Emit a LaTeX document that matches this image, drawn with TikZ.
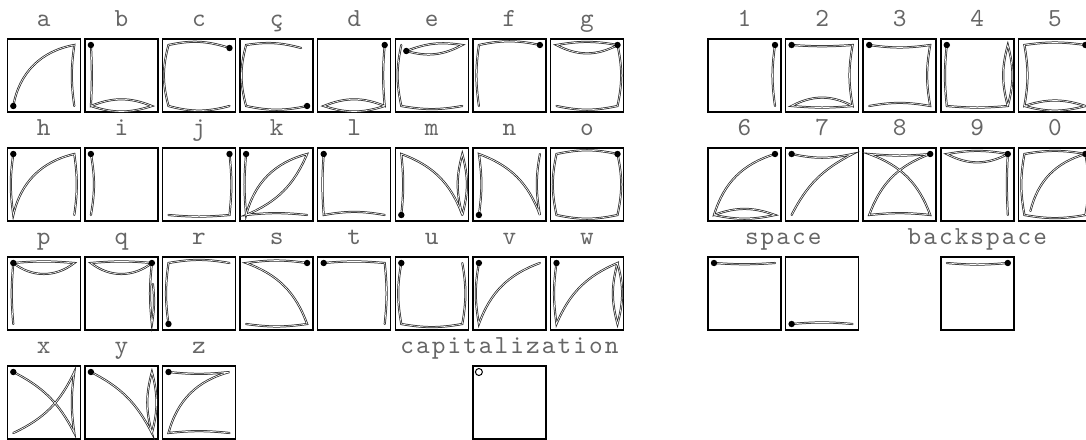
\documentclass[tikz,border=0pt]{standalone}
\usepackage{fontspec}
\newfontfamily\keyfont{lmmono10-regular.otf}[LetterSpace=8]
\usetikzlibrary{calc}

\tikzset{
  keybox/.style={draw, line width=1.5pt, minimum size=73pt, inner sep=0pt, outer sep=-6pt},
  keylabel/.style={anchor=base, text=black!60, font=\keyfont\fontsize{26}{28}\selectfont},
  stroke/.style={draw=black!85, line width=0.75pt, double=white, double distance=0.6pt, line cap=round},
  startdot/.style={fill=black}
}

\begin{document}
\begin{tikzpicture}[x=1pt, y=1pt]
\useasboundingbox (0,0) rectangle (1086,-439);

% letter boxes
\foreach \n/\t/\c/\r in {a/a/0/0, b/b/1/0, c/c/2/0, cc/ç/3/0, d/d/4/0, e/e/5/0, f/f/6/0, g/g/7/0,
    h/h/0/1, i/i/1/1, j/j/2/1, k/k/3/1, l/l/4/1, m/m/5/1, n/n/6/1, o/o/7/1,
    p/p/0/2, q/q/1/2, r/r/2/2, s/s/3/2, t/t/4/2, u/u/5/2, v/v/6/2, w/w/7/2,
    x/x/0/3, y/y/1/3, z/z/2/3} {
  \node[keybox] (k\n) at ({43.8+77.6*\c},{-75.5-109*\r}) {};
  \node[keylabel] (l\n) at ([yshift=18.5pt]k\n.north) {\t};
}
% digit boxes
\foreach \n/\c/\r in {1/0/0, 2/1/0, 3/2/0, 4/3/0, 5/4/0, 6/0/1, 7/1/1, 8/2/1, 9/3/1, 0/4/1} {
  \node[keybox] (d\n) at ({744.5+77.6*\c},{-75.5-109*\r}) {};
  \node[keylabel] (ld\n) at ([yshift=18.5pt]d\n.north) {\n};
}
\node[keybox] (sp1) at (744.5,-293.5) {};
\node[keybox] (sp2) at (822.1,-293.5) {};
\node[keylabel] (lsp) at ([xshift=38.8pt,yshift=18.5pt]sp1.north) {space};
\node[keybox] (bsp) at (977.3,-293.5) {};
\node[keylabel] (lbsp) at ([yshift=18.5pt]bsp.north) {backspace};
\node[keybox] (cap) at (509.4,-402.5) {};
\node[keylabel] (lcap) at ([yshift=18.5pt]cap.north) {capitalization};

% a - g
\draw[stroke] (ka.south west) to[bend left=35] (ka.north east) to[bend right=8] (ka.south east);
\fill[startdot] (ka.south west) circle (3.2);
\draw[stroke] (kb.north west) to[bend left=3] (kb.south west) to[bend left=22] (kb.south east) to[bend left=18] (kb.south west);
\fill[startdot] (kb.north west) circle (3.2);
\draw[stroke] ([yshift=-3]kc.north east) to[bend right=15] (kc.north west) to[bend right=15] (kc.south west) to[bend right=15] (kc.south east);
\fill[startdot] ([yshift=-3]kc.north east) circle (3.2);
\draw[stroke] (kcc.south east) to[bend left=12] (kcc.south west) to[bend left=15] (kcc.north west) to[bend left=12] ([shift={(-6,-3)}]kcc.north east);
\fill[startdot] (kcc.south east) circle (3.2);
\draw[stroke] (kd.north east) to[bend right=5] (kd.south east) to[bend right=22] (kd.south west) to[bend right=18] (kd.south east);
\fill[startdot] (kd.north east) circle (3.2);
\draw[stroke] ([shift={(5,-6)}]ke.north west) to[bend left=15] (ke.north east) to[bend left=22] ([shift={(5,-6)}]ke.north west);
\draw[stroke] (ke.north west) to[bend right=12] (ke.south west) to[bend right=10] (ke.south east);
\fill[startdot] ([shift={(5,-6)}]ke.north west) circle (3.2);
\draw[stroke] (kf.north east) to[bend right=12] (kf.north west) to[bend right=8] (kf.south west);
\fill[startdot] (kf.north east) circle (3.2);
\draw[stroke] (kg.north east) to[bend right=10] (kg.north west) to[bend right=28] (kg.north east) to[bend left=12] (kg.south east) to[bend left=12] (kg.south west);
\fill[startdot] (kg.north east) circle (3.2);

% h - o
\draw[stroke] (kh.north west) to[bend right=8] (kh.south west) to[bend left=32] (kh.north east) to[bend left=8] (kh.south east);
\fill[startdot] (kh.north west) circle (3.2);
\draw[stroke] (ki.north west) to[bend left=10] (ki.south west);
\fill[startdot] (ki.north west) circle (3.2);
\draw[stroke] (kj.north east) to[bend left=6] (kj.south east) to[bend left=5] (kj.south west);
\fill[startdot] (kj.north east) circle (3.2);
\draw[stroke] (kk.north west) to[bend right=5] (kk.south west) to[bend left=30] (kk.north east) to[bend left=22] (kk.south west) to[bend left=6] (kk.south east);
\fill[startdot] (kk.north west) circle (3.2);
\draw[stroke] (kl.north west) to[bend right=4] (kl.south west) to[bend left=10] (kl.south east);
\fill[startdot] (kl.north west) circle (3.2);
\draw[stroke] (km.south west) to[bend right=6] (km.north west) to[bend left=25] (km.south east) to[bend left=15] (km.north east) to[bend left=15] (km.south east);
\fill[startdot] (km.south west) circle (3.2);
\draw[stroke] (kn.south west) to[bend right=8] (kn.north west) to[bend left=25] (kn.south east) to[bend left=10] (kn.north east);
\fill[startdot] (kn.south west) circle (3.2);
\draw[stroke] (ko.north east) to[bend right=12] (ko.north west) to[bend right=12] (ko.south west) to[bend right=12] (ko.south east) to[bend right=12] (ko.north east);
\fill[startdot] (ko.north east) circle (3.2);

% p - w
\draw[stroke] (kp.north west) to[bend left=5] (kp.north east) to[bend left=38] (kp.north west) to[bend right=5] (kp.south west);
\fill[startdot] (kp.north west) circle (3.2);
\draw[stroke] (kq.north east) to[bend right=5] (kq.north west) to[bend right=38] (kq.north east) to[bend right=6] (kq.south east) to[bend right=8] ([shift={(1,-21)}]kq.north east);
\fill[startdot] (kq.north east) circle (3.2);
\draw[stroke] (kr.south west) to[bend left=8] (kr.north west) to[bend left=10] (kr.north east);
\fill[startdot] (kr.south west) circle (3.2);
\draw[stroke] (ks.north east) to[bend right=8] (ks.north west) to[bend left=25] (ks.south east) to[bend left=8] (ks.south west);
\fill[startdot] (ks.north east) circle (3.2);
\draw[stroke] (kt.north west) to[bend left=5] (kt.north east) to[bend left=6] (kt.south east);
\fill[startdot] (kt.north west) circle (3.2);
\draw[stroke] (ku.north west) to[bend right=10] (ku.south west) to[bend right=10] (ku.south east) to[bend right=10] (ku.north east);
\fill[startdot] (ku.north west) circle (3.2);
\draw[stroke] (kv.north west) to[bend right=10] (kv.south west) to[bend left=25] (kv.north east);
\fill[startdot] (kv.north west) circle (3.2);
\draw[stroke] (kw.north west) to[bend right=8] (kw.south west) to[bend left=22] (kw.north east) to[bend right=15] (kw.south east) to[bend right=15] (kw.north east);
\fill[startdot] (kw.north west) circle (3.2);

% x - z
\draw[stroke] (kx.north west) to[bend left=18] (kx.south east) to[bend left=8] (kx.north east) to[bend left=20] (kx.south west);
\fill[startdot] (kx.north west) circle (3.2);
\draw[stroke] (ky.north west) to[bend left=18] (ky.south east) to[bend left=15] (ky.north east) to[bend left=15] (ky.south east);
\fill[startdot] (ky.north west) circle (3.2);
\draw[stroke] (kz.north west) to[bend right=6] (kz.north east) to[bend right=30] (kz.south west) to[bend left=6] (kz.south east);
\fill[startdot] (kz.north west) circle (3.2);

% digits
\draw[stroke] (d1.north east) to[bend right=8] (d1.south east);
\fill[startdot] (d1.north east) circle (3.2);
\draw[stroke] (d2.north west) to[bend right=4] (d2.north east) to[bend right=10] (d2.south east) to[bend right=28] (d2.south west) to[bend right=5] (d2.south east);
\fill[startdot] (d2.north west) circle (3.2);
\draw[stroke] (d3.north west) to[bend right=8] (d3.north east) to[bend right=10] (d3.south east) to[bend right=10] (d3.south west);
\fill[startdot] (d3.north west) circle (3.2);
\draw[stroke] (d4.north west) to[bend right=6] (d4.south west) to[bend right=5] (d4.south east) to[bend left=15] (d4.north east) to[bend left=15] (d4.south east);
\fill[startdot] (d4.north west) circle (3.2);
\draw[stroke] (d5.north east) to[bend right=8] (d5.north west) to[bend left=10] (d5.south west) to[bend left=18] (d5.south east) to[bend left=15] (d5.south west);
\fill[startdot] (d5.north east) circle (3.2);
\draw[stroke] (d6.north east) to[bend right=28] (d6.south west) to[bend left=20] (d6.south east) to[bend left=12] (d6.south west);
\fill[startdot] (d6.north east) circle (3.2);
\draw[stroke] (d7.north west) to[bend right=12] (d7.north east) to[bend right=18] (d7.south west);
\fill[startdot] (d7.north west) circle (3.2);
\draw[stroke] (d8.north east) to[bend right=25] (d8.south west) to[bend left=6] (d8.south east) to[bend right=25] (d8.north west) to[bend right=5] (d8.north east);
\fill[startdot] (d8.north east) circle (3.2);
\draw[stroke] (d9.north east) to[bend right=10] (d9.north west) to[bend right=28] (d9.north east) to[bend right=3] (d9.south east);
\fill[startdot] (d9.north east) circle (3.2);
\draw[stroke] (d0.north east) to[bend right=10] (d0.north west) to[bend right=10] (d0.south west) to[bend right=10] (d0.south east) to[bend right=10] (d0.north east) to[bend right=30] ([shift={(6,4)}]d0.south west);
\fill[startdot] (d0.north east) circle (3.2);

% space, backspace, capitalization
\draw[stroke] (sp1.north west) to[bend right=4] (sp1.north east);
\fill[startdot] (sp1.north west) circle (3.2);
\draw[stroke] (sp2.south west) to[bend left=5] (sp2.south east);
\fill[startdot] (sp2.south west) circle (3.2);
\draw[stroke] (bsp.north east) to[bend left=5] (bsp.north west);
\fill[startdot] (bsp.north east) circle (3.2);
\draw[line width=1pt] (cap.north west) circle (3.5);
\end{tikzpicture}
\end{document}
